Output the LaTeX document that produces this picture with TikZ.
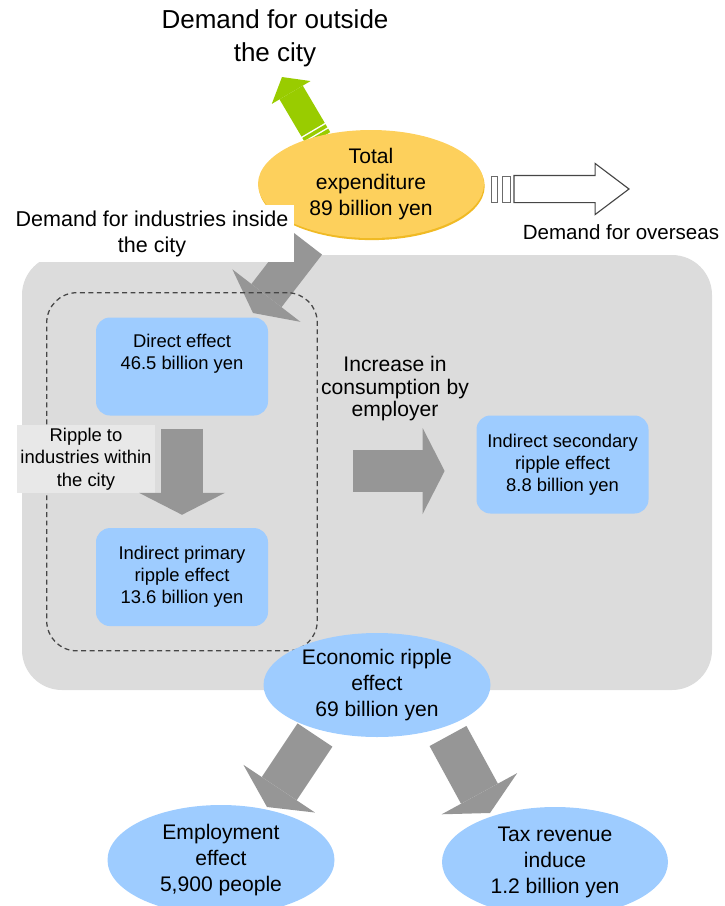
\documentclass[tikz,border=0pt]{standalone}
\usepackage{fontspec}
\setmainfont{Liberation Sans}
\usetikzlibrary{positioning, fit, arrows.meta, shapes.geometric, shapes.arrows, shadows}
\definecolor{ripple-gray}{RGB}{220,220,220}
\definecolor{label-gray}{RGB}{232,232,232}
\definecolor{effect-blue}{RGB}{158,204,255}
\definecolor{total-orange}{RGB}{253,208,92}
\definecolor{total-edge}{RGB}{240,186,36}
\definecolor{out-green}{RGB}{153,204,0}
\definecolor{arrow-gray}{RGB}{150,150,150}
\definecolor{line-gray}{RGB}{70,70,70}

\begin{document}
\begin{tikzpicture}
    [effect/.style = {rectangle, fill=effect-blue, align=center, rounded corners=0.35cm,
            minimum width=4.3cm, minimum height=2.45cm, font=\fontsize{13.1}{15.6}\selectfont},
    oval/.style = {ellipse, fill=effect-blue, align=center, inner sep=-3pt,
            minimum width=5.65cm, minimum height=2.7cm, font=\fontsize{15}{18.5}\selectfont},
    caption/.style = {align=center, inner sep=0pt, font=\fontsize{15}{18.5}\selectfont},
    grayarrow/.style = {draw=arrow-gray, line width=1.05cm,
            -{Triangle[width=2.15cm, length=0.55cm, line width=0pt]}},
    stripe/.style = {rectangle, draw=line-gray!80, fill=white, line width=0.6pt,
            minimum height=0.65cm, inner sep=0pt},
    ]
    \useasboundingbox (0,0) rectangle (18.125,-22.65);

    \node[rectangle, fill=ripple-gray, rounded corners=1cm, minimum width=17.25cm, minimum height=10.875cm] (region) at (9.175,-11.8125) {};

    \node[caption, font=\fontsize{18.5}{23.5}\selectfont] (outside-text) at (6.875,-0.95) {Demand for outside\\the city};
    \coordinate (out-tail) at (7.965,-3.475);
    \coordinate (out-tip) at (7.05,-1.925);
    \draw[draw=out-green, line width=0.675cm, dash pattern=on 0.1cm off 0.04cm on 0.09cm off 0.04cm on 3cm,
        -{Triangle[width=1.125cm, length=0.45cm, line width=0pt]}] (out-tail) -- (out-tip);

    \node[oval, fill=total-orange, drop shadow={shadow xshift=0.5pt, shadow yshift=-1.5pt, fill=total-edge, opacity=1}] (total) at (9.275,-4.6) {Total\\expenditure\\89 billion yen};

    \node[single arrow, draw=line-gray, fill=white, line width=0.8pt, inner xsep=0pt, inner ysep=0.325cm,
        minimum height=2.875cm, single arrow head extend=0.3cm,
        single arrow tip angle=74] (over-arrow) at (14.0625,-4.725) {};
    \node[stripe, minimum width=0.2cm, left=0.075cm of over-arrow.tail] (over-stripe2) {};
    \node[stripe, minimum width=0.15cm, left=0.1cm of over-stripe2] (over-stripe1) {};
    \node[caption, font=\fontsize{14.6}{18}\selectfont] (overseas-text) at (15.525,-5.8) {Demand for overseas};

    \coordinate (in-tail) at (7.675,-6.075);
    \coordinate (in-tip) at (6.325,-7.825);
    \draw[grayarrow, line width=0.95cm] (in-tail) -- (in-tip);
    \node[caption, fill=white, minimum width=7.1cm, minimum height=1.425cm, font=\fontsize{15.3}{18.5}\selectfont] (inside-text) at (3.8,-5.8375) {Demand for industries inside\\the city};

    \node[effect] (direct) at (4.55,-9.1625) {Direct effect\\46.5 billion yen\\ \strut};
    \node[effect, below=2.8cm of direct] (primary) {Indirect primary\\ripple effect\\13.6 billion yen};
    \node[rectangle, draw=line-gray, dash pattern=on 3.5pt off 2.5pt, line width=0.9pt, rounded corners=0.75cm,
        inner xsep=1.225cm, inner ysep=0.6125cm, fit=(direct) (primary)] (within) {};
    \node[rectangle, fill=label-gray, align=center, minimum width=3.45cm, minimum height=1.7cm, inner sep=0pt,
        font=\fontsize{13.1}{16}\selectfont] (ripple-text) at (2.15,-11.475) {Ripple to\\industries within\\the city};
    \draw[grayarrow, shorten <=0.325cm, shorten >=0.325cm] (direct) -- (primary);

    \node[effect] (secondary) at (14.0625,-11.6125) {Indirect secondary\\ripple effect\\8.8 billion yen};
    \node[caption, font=\fontsize{15}{16}\selectfont] (consumption-text) at (9.875,-9.725) {Increase in\\consumption by\\employer};
    \coordinate (spend-tail) at (8.825,-11.775);
    \draw[grayarrow, shorten >=0.79cm] (spend-tail) -- (spend-tail -| secondary.west);

    \coordinate (emp-tail) at (7.875,-18.375);
    \coordinate (emp-tip) at (6.675,-20.175);
    \coordinate (tax-tail) at (11.2,-18.4);
    \coordinate (tax-tip) at (12.25,-20.325);
    \draw[grayarrow] (emp-tail) -- (emp-tip);
    \draw[grayarrow] (tax-tail) -- (tax-tip);

    \node[oval, minimum width=5.675cm, minimum height=2.6cm] (economic) at (9.425,-17.125) {Economic ripple\\effect\\69 billion yen};
    \node[oval, minimum width=5.675cm, minimum height=2.75cm] (employment) at (5.525,-21.5) {Employment\\effect\\5,900 people};
    \node[oval, minimum height=2.75cm] (tax) at (13.875,-21.55) {Tax revenue\\induce\\1.2 billion yen};
\end{tikzpicture}
\end{document}
